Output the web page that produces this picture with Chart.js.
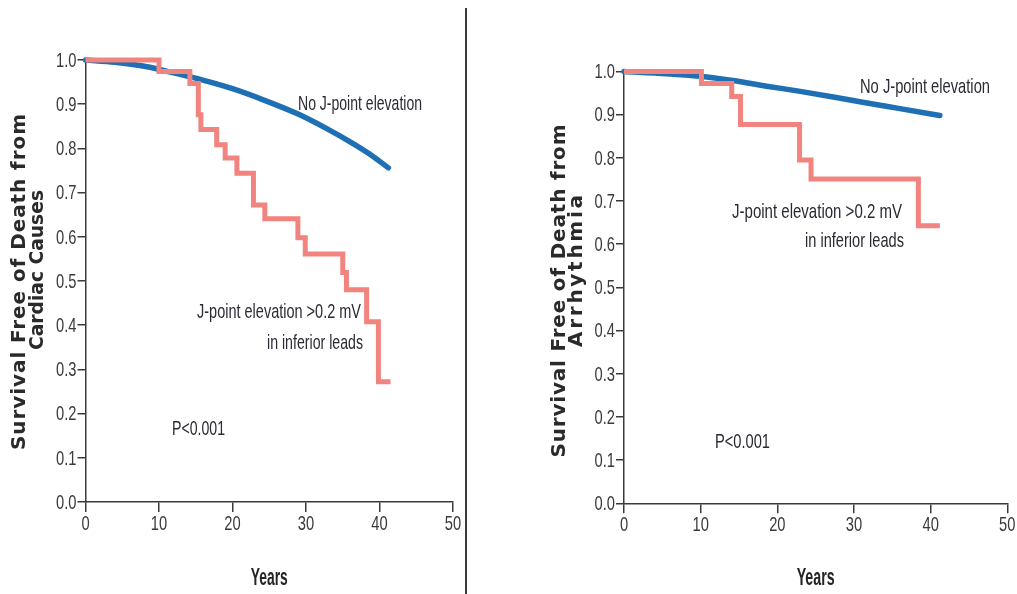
<!DOCTYPE html>
<html><head><meta charset="utf-8">
<script src="https://cdn.jsdelivr.net/npm/chart.js@4"></script>
<style>
html,body{margin:0;padding:0;background:#fff;}
body{width:1017px;height:594px;position:relative;overflow:hidden;}
.panel{position:absolute;top:0;height:594px;}
#divider{position:absolute;left:465px;top:8px;width:2px;height:586px;background:#3a3a3a;}
</style></head><body>
<div class="panel" style="left:0;width:466px"><canvas id="c1" width="466" height="594"></canvas></div>
<div id="divider"></div>
<div class="panel" style="left:540px;width:477px"><canvas id="c2" width="477" height="594"></canvas></div>
<script>
// ---------- data ----------
const xTicks = [0, 10, 20, 30, 40, 50];
const yTicks = [0.0, 0.1, 0.2, 0.3, 0.4, 0.5, 0.6, 0.7, 0.8, 0.9, 1.0];
const xTitle = 'Years';
const seriesJ = 'J-point elevation >0.2 mV in inferior leads';
const seriesJLines = ['J-point elevation >0.2 mV', 'in inferior leads'];
const seriesNoJ = 'No J-point elevation';

// Panel A: death from cardiac causes
const cardiacTitle = ['Survival Free of Death from', 'Cardiac Causes'];
const cardiacJYears = [0, 10.0, 14.2, 15.35, 15.7, 17.85, 19.0, 20.6, 22.85, 24.4, 28.9, 29.9, 35.0, 35.5, 38.25, 39.85, 41.5];
const cardiacJSurv  = [1.0, 0.974, 0.947, 0.876, 0.843, 0.808, 0.778, 0.744, 0.672, 0.641, 0.598, 0.561, 0.519, 0.480, 0.408, 0.272, 0.272];
const cardiacNoJYears = [0, 4, 8, 13, 17, 20, 24, 29, 33, 36, 38.5, 41.2];
const cardiacNoJSurv  = [1.0, 0.995, 0.986, 0.967, 0.950, 0.935, 0.911, 0.877, 0.843, 0.815, 0.789, 0.756];
const cardiacP = 'P<0.001';

// Panel B: death from arrhythmia
const arrhTitle = ['Survival Free of Death from', 'Arrhythmia'];
const arrhJYears = [0, 10.1, 14.05, 15.2, 22.9, 24.4, 38.4, 41.2];
const arrhJSurv  = [1.0, 0.972, 0.942, 0.877, 0.795, 0.751, 0.643, 0.643];
const arrhNoJYears = [0, 5.6, 9.9, 14.2, 18.6, 23.0, 27.3, 31.7, 36.0, 41.2];
const arrhNoJSurv  = [1.0, 0.995, 0.989, 0.979, 0.966, 0.954, 0.941, 0.927, 0.914, 0.898];
const arrhP = 'P<0.001';

// ---------- styling ----------
const SANS = "'Liberation Sans', Arimo, Arial, sans-serif";
const BOLDSANS = "'DejaVu Sans', Verdana, sans-serif";
const RED = '#F2847F';
const BLUE = '#1F6FB4';
const AXIS = '#3a3a3a';
const TEXT = '#2a2a34';
const TICKSCALE = 0.70;

function pts(xs, ys){ return xs.map((x,i)=>({x:x, y:ys[i]})); }

function drawScaled(ctx, text, x, y, align, sx, baseline){
  ctx.save();
  ctx.textAlign = 'left';
  ctx.textBaseline = baseline || 'alphabetic';
  const w = ctx.measureText(text).width * sx;
  const left = align === 'center' ? x - w/2 : (align === 'right' ? x - w : x);
  ctx.translate(left, y);
  ctx.scale(sx, 1);
  ctx.fillText(text, 0, 0);
  ctx.restore();
}

function textPlugin(cfg){
  return {
    id:'txt',
    afterDraw(chart){
      const ctx = chart.ctx;
      const xs = chart.scales.x, ys = chart.scales.y;
      // tick labels, placed through the library's scales
      ctx.save();
      ctx.fillStyle = AXIS;
      ctx.font = '21px ' + SANS;
      xTicks.forEach(v => drawScaled(ctx, String(v), xs.getPixelForValue(v), xs.top + 28, 'center', TICKSCALE));
      yTicks.forEach(v => drawScaled(ctx, v.toFixed(1), ys.right - 9, ys.getPixelForValue(v) + 1, 'right', TICKSCALE, 'middle'));
      // x-axis title
      ctx.fillStyle = '#242424';
      ctx.font = 'bold 24px ' + SANS;
      const cx = (chart.chartArea.left + chart.chartArea.right) / 2;
      const tw = ctx.measureText(xTitle).width;
      drawScaled(ctx, xTitle, cx, 585, 'center', cfg.xTitleW / tw);
      ctx.restore();

      // annotations
      cfg.items.forEach(it=>{
        ctx.save();
        ctx.font = it.size + 'px ' + SANS;
        ctx.fillStyle = TEXT;
        const w = ctx.measureText(it.text).width;
        drawScaled(ctx, it.text, it.x, it.y, it.align, it.w / w);
        ctx.restore();
      });
      // rotated y-axis titles
      cfg.titles.forEach(t=>{
        ctx.save();
        ctx.font = 'bold ' + t.size + 'px ' + BOLDSANS;
        ctx.fillStyle = '#2a2a2a';
        ctx.textBaseline = 'middle';
        ctx.textAlign = 'left';
        const w = ctx.measureText(t.text).width;
        let sx = 1;
        if (t.len > w) {
          const ls = (t.len - w) / Math.max(1, t.text.length - 1);
          ctx.letterSpacing = ls + 'px';
        } else {
          sx = t.len / w;
        }
        ctx.translate(t.cx, t.cy);
        ctx.rotate(-Math.PI/2);
        ctx.scale(sx, 1);
        ctx.fillText(t.text, -t.len/2/sx, 0);
        ctx.restore();
      });
    }
  };
}

function makeChart(id, cfg){
  const ctx = document.getElementById(id);
  return new Chart(ctx, {
    type: 'line',
    data: {
      datasets: [
        { label: seriesJ, data: pts(cfg.jx, cfg.jy), borderColor: RED, borderWidth: 5,
          stepped: 'before', pointRadius: 0, fill: false, clip: false },
        { label: seriesNoJ, data: pts(cfg.nx, cfg.ny), borderColor: BLUE, borderWidth: 5.5,
          cubicInterpolationMode: 'monotone', pointRadius: 0, fill: false, clip: false, borderCapStyle: 'round' }
      ]
    },
    options: {
      responsive: false,
      devicePixelRatio: 1,
      animation: false,
      layout: { padding: { left: 0, right: cfg.padRight, top: cfg.padTop, bottom: 0 } },
      plugins: { legend: { display: false }, tooltip: { enabled: false } },
      scales: {
        x: {
          type: 'linear', min: 0, max: 50,
          afterBuildTicks: s => { s.ticks = xTicks.map(v=>({value:v})); },
          afterFit: s => { s.height = cfg.xHeight; },
          ticks: { display: false },
          grid: { drawOnChartArea: false, drawTicks: true, tickLength: 10, color: AXIS, lineWidth: 1.5 },
          border: { color: AXIS, width: 1.5 },
          title: { display: false, text: xTitle }
        },
        y: {
          type: 'linear', min: 0, max: 1,
          afterBuildTicks: s => { s.ticks = yTicks.map(v=>({value:v})); },
          afterFit: s => { s.width = cfg.yWidth; },
          ticks: { display: false },
          grid: { drawOnChartArea: false, drawTicks: true, tickLength: 8, color: AXIS, lineWidth: 1.5 },
          border: { color: AXIS, width: 1.5 }
        }
      }
    },
    plugins: [textPlugin(cfg)]
  });
}

makeChart('c1', {
  jx: cardiacJYears, jy: cardiacJSurv, nx: cardiacNoJYears, ny: cardiacNoJSurv,
  padRight: 13, padTop: 60, xHeight: 92, yWidth: 85.5, xTitleW: 37,
  items: [
    { text: seriesNoJ, x: 298, y: 110, w: 124, size: 21, align: 'left' },
    { text: seriesJLines[0], x: 361, y: 318, w: 164, size: 21, align: 'right' },
    { text: seriesJLines[1], x: 363, y: 349, w: 96, size: 21, align: 'right' },
    { text: cardiacP, x: 172, y: 435, w: 53, size: 21, align: 'left' }
  ],
  titles: [
    { text: cardiacTitle[0], cx: 20, cy: 282, len: 336, size: 20 },
    { text: cardiacTitle[1], cx: 38, cy: 270, len: 160, size: 20 }
  ]
});

makeChart('c2', {
  jx: arrhJYears, jy: arrhJSurv, nx: arrhNoJYears, ny: arrhNoJSurv,
  padRight: 9.7, padTop: 71.5, xHeight: 90.7, yWidth: 84, xTitleW: 38,
  items: [
    { text: seriesNoJ, x: 860-540, y: 93, w: 130, size: 21, align: 'left' },
    { text: seriesJLines[0], x: 902-540, y: 218, w: 170, size: 21, align: 'right' },
    { text: seriesJLines[1], x: 904-540, y: 247, w: 99, size: 21, align: 'right' },
    { text: arrhP, x: 715-540, y: 448, w: 55, size: 21, align: 'left' }
  ],
  titles: [
    { text: arrhTitle[0], cx: 20, cy: 291, len: 333, size: 20 },
    { text: arrhTitle[1], cx: 37, cy: 271, len: 152, size: 20 }
  ]
});
</script>
</body></html>
